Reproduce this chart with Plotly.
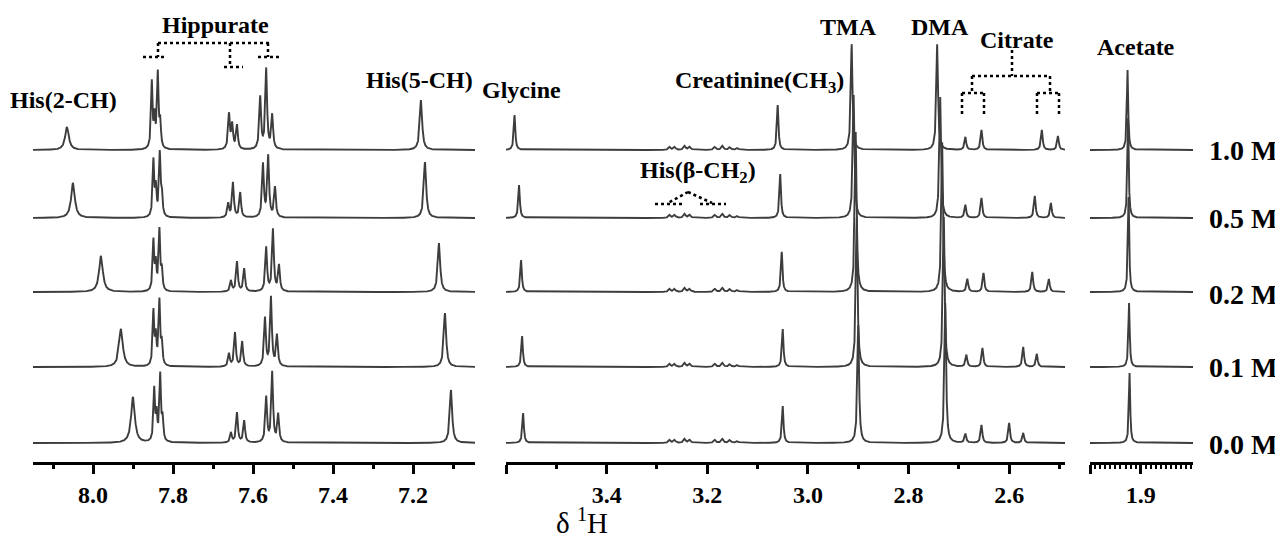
import numpy as np
import plotly.graph_objects as go

# ---------------- data ----------------
conc_labels = ["1.0 M", "0.5 M", "0.2 M", "0.1 M", "0.0 M"]

# Panel 1 (aromatic region) peak lists, ppm and intensity
his2_ppm = [8.065, 8.050, 7.980, 7.930, 7.900]
his2_h = [23, 35, 36, 38, 46]
his5_ppm = [7.180, 7.170, 7.135, 7.120, 7.105]
his5_h = [50, 56, 49, 54, 53]
hip_ortho_ppm = [[7.853, 7.846, 7.838, 7.832], [7.849, 7.843, 7.833, 7.828], [7.849, 7.843, 7.834, 7.828],
                 [7.849, 7.843, 7.834, 7.828], [7.847, 7.841, 7.832, 7.826]]
hip_ortho_h = [[66, 30, 74, 25], [56, 28, 62, 22], [50, 26, 60, 20], [54, 28, 64, 22], [52, 26, 66, 22]]
hip_para_ppm = [[7.660, 7.652, 7.640], [7.662, 7.650, 7.632], [7.655, 7.640, 7.622],
                [7.660, 7.645, 7.627], [7.655, 7.640, 7.622]]
hip_para_h = [[35, 24, 24], [14, 35, 25], [11, 30, 23], [13, 34, 25], [10, 30, 22]]
hip_meta_ppm = [[7.582, 7.567, 7.552], [7.575, 7.562, 7.545], [7.567, 7.550, 7.535],
                [7.570, 7.555, 7.540], [7.567, 7.552, 7.537]]
hip_meta_h = [[52, 80, 34], [53, 61, 30], [44, 62, 26], [48, 69, 31], [45, 70, 28]]

# Panel 2 (aliphatic region)
gly_ppm = [3.583, 3.574, 3.570, 3.568, 3.566]
gly_h = [35, 33, 32, 31, 30]
creat_ppm = [3.060, 3.055, 3.052, 3.050, 3.050]
creat_h = [45, 44, 40, 38, 37]
tma_ppm = [2.913, 2.909, 2.905, 2.903, 2.900]
tma_h = [106, 123, 160, 150, 118]
dma_ppm = [2.743, 2.737, 2.733, 2.730, 2.727]
dma_h = [106, 121, 150, 150, 140]
cit_ppm = [[2.687, 2.655, 2.535, 2.503], [2.687, 2.655, 2.549, 2.517], [2.683, 2.651, 2.554, 2.521],
           [2.685, 2.653, 2.572, 2.545], [2.687, 2.655, 2.600, 2.572]]
cit_h = [[13, 20, 20, 14], [13, 20, 22, 15], [13, 19, 20, 13], [12, 19, 20, 13], [9, 18, 20, 10]]
hisb_ppm = [3.275, 3.265, 3.245, 3.235, 3.185, 3.170, 3.155, 3.140]
hisb_h = [3, 3, 4, 3, 3, 4, 3, 2]

# Panel 3 (acetate)
ace_ppm = [1.926, 1.925, 1.924, 1.923, 1.922]
ace_h = [80, 100, 95, 64, 70]

# ---------------- layout constants ----------------
W, H = 1283, 541
PAD = 8                                   # page body margin of the html page
offsets = [293, 225, 151, 76, 0]          # vertical stacking of the spectra
line_color = "#3d3d3d"
serif = "Liberation Serif"


def lorentz(x, pos, hts, w):
    y = np.zeros_like(x)
    for p, h in zip(pos, hts):
        y += h / (1.0 + ((x - p) / w) ** 2)
    return y


x1 = np.linspace(7.045, 8.15, 4000)
x2 = np.linspace(2.489, 3.60, 6000)
x3 = np.linspace(1.795, 2.007, 1500)

fig = go.Figure()
for i, lab in enumerate(conc_labels):
    off = offsets[i]
    y1 = (lorentz(x1, [his2_ppm[i]], [his2_h[i]], 0.0055)
          + lorentz(x1, [his5_ppm[i]], [his5_h[i]], 0.0035)
          + lorentz(x1, hip_ortho_ppm[i], hip_ortho_h[i], 0.0022)
          + lorentz(x1, hip_para_ppm[i], hip_para_h[i], 0.0026)
          + lorentz(x1, hip_meta_ppm[i], hip_meta_h[i], 0.0026))
    fig.add_trace(go.Scatter(x=x1, y=y1 + off, xaxis="x", yaxis="y", mode="lines",
                             line=dict(color=line_color, width=1.9), name=lab, showlegend=False))
    y2 = (lorentz(x2, [gly_ppm[i]], [gly_h[i]], 0.0018)
          + lorentz(x2, [creat_ppm[i]], [creat_h[i]], 0.0018)
          + lorentz(x2, [tma_ppm[i]], [tma_h[i]], 0.0020)
          + lorentz(x2, [dma_ppm[i]], [dma_h[i]], 0.0020)
          + lorentz(x2, cit_ppm[i], cit_h[i], 0.0020)
          + lorentz(x2, hisb_ppm, hisb_h, 0.0025))
    fig.add_trace(go.Scatter(x=x2, y=y2 + off, xaxis="x2", yaxis="y", mode="lines",
                             line=dict(color=line_color, width=1.9), name=lab, showlegend=False))
    y3 = lorentz(x3, [ace_ppm[i]], [ace_h[i]], 0.0015)
    fig.add_trace(go.Scatter(x=x3, y=y3 + off, xaxis="x3", yaxis="y", mode="lines",
                             line=dict(color=line_color, width=1.9), name=lab, showlegend=False))


def px(x, y):
    return (x - PAD) / W, 1 - (y - PAD) / H


tickfont = dict(family=serif, size=24, color="black", weight="bold")
common = dict(showline=True, linecolor="black", linewidth=2.5, ticks="outside", ticklen=9,
              tickwidth=2.5, tickcolor="black", showgrid=False, zeroline=False,
              tickfont=tickfont, anchor="y", fixedrange=True)

fig.update_layout(
    width=W, height=H, margin=dict(l=0, r=0, t=0, b=0),
    paper_bgcolor="white", plot_bgcolor="white",
    xaxis=dict(domain=[px(33, 0)[0], px(475, 0)[0]], range=[8.15, 7.045],
               tickvals=[8.0, 7.8, 7.6, 7.4, 7.2], ticktext=["8.0", "7.8", "7.6", "7.4", "7.2"],
               minor=dict(tickvals=[8.1, 7.9, 7.7, 7.5, 7.3, 7.1], ticks="outside", ticklen=4,
                          tickwidth=2.5, tickcolor="black"), **common),
    xaxis2=dict(domain=[px(506, 0)[0], px(1065, 0)[0]], range=[3.60, 2.489],
                tickvals=[3.6, 3.4, 3.2, 3.0, 2.8, 2.6], ticktext=["", "3.4", "3.2", "3.0", "2.8", "2.6"],
                minor=dict(tickvals=[3.5, 3.3, 3.1, 2.9, 2.7, 2.5], ticks="outside", ticklen=4,
                           tickwidth=2.5, tickcolor="black"), **common),
    xaxis3=dict(domain=[px(1090, 0)[0], px(1193, 0)[0]], range=[2.0, 1.797],
                tickvals=[2.0, 1.9], ticktext=["", "1.9"],
                minor=dict(tickvals=[round(2.0 - 0.01 * k, 2) for k in range(1, 21) if k != 10],
                           ticks="outside", ticklen=4, tickwidth=1.5, tickcolor="black"), **common),
    yaxis=dict(domain=[px(0, 462)[1], px(0, 20)[1]], range=[-19, 423], visible=False, fixedrange=True),
)

labels = [
    ("<b>His(2-CH)</b>", 63, 100, 24),
    ("<b>Hippurate</b>", 215, 25, 24),
    ("<b>His(5-CH)</b>", 419, 80, 24),
    ("<b>Glycine</b>", 521, 90, 24),
    ("<b>Creatinine(CH<sub>3</sub>)</b>", 759, 82, 24),
    ("<b>His(β-CH<sub>2</sub>)</b>", 698, 172, 24),
    ("<b>TMA</b>", 848, 27, 24),
    ("<b>DMA</b>", 940, 27, 24),
    ("<b>Citrate</b>", 1017, 40, 24),
    ("<b>Acetate</b>", 1136, 47, 24),
]
for t, x, y, s in labels:
    ax, ay = px(x, y)
    fig.add_annotation(text=t, x=ax, y=ay, xref="paper", yref="paper", showarrow=False,
                       xanchor="center", yanchor="middle", font=dict(family=serif, size=s, color="black"))

conc_y = [150, 218, 294, 367, 444]
for lab, cy in zip(conc_labels, conc_y):
    ax, ay = px(1207, cy)
    fig.add_annotation(text="<b>" + lab + "</b>", x=ax, y=ay, xref="paper", yref="paper",
                       showarrow=False, xanchor="left", yanchor="middle",
                       font=dict(family=serif, size=28, color="black"))

ax, ay = px(582, 521)
fig.add_annotation(text="δ <sup>1</sup>H", x=ax, y=ay, xref="paper", yref="paper", showarrow=False,
                   xanchor="center", yanchor="middle", font=dict(family=serif, size=29, color="black"))

segs = [
    # Hippurate
    (158, 43, 270, 43), (158, 43, 158, 57), (143, 57, 166, 57),
    (230, 43, 230, 67), (224, 67, 243, 67),
    (268, 43, 268, 57), (258, 57, 280, 57),
    # Citrate
    (1012, 50, 1012, 76), (972, 76, 1050, 76),
    (972, 76, 972, 93), (962, 93, 984, 93), (962, 93, 962, 115), (984, 93, 984, 115),
    (1050, 76, 1050, 93), (1037, 93, 1059, 93), (1037, 93, 1037, 115), (1059, 93, 1059, 115),
    # His beta-CH2
    (688, 192, 668, 203), (688, 192, 712, 203), (655, 204, 682, 204), (700, 204, 726, 204),
]
for x0, y0, x1_, y1_ in segs:
    a0, b0 = px(x0, y0)
    a1, b1 = px(x1_, y1_)
    fig.add_shape(type="line", xref="paper", yref="paper", x0=a0, y0=b0, x1=a1, y1=b1,
                  line=dict(color="black", width=2.5, dash="dot"))

fig.write_html("out.html")
